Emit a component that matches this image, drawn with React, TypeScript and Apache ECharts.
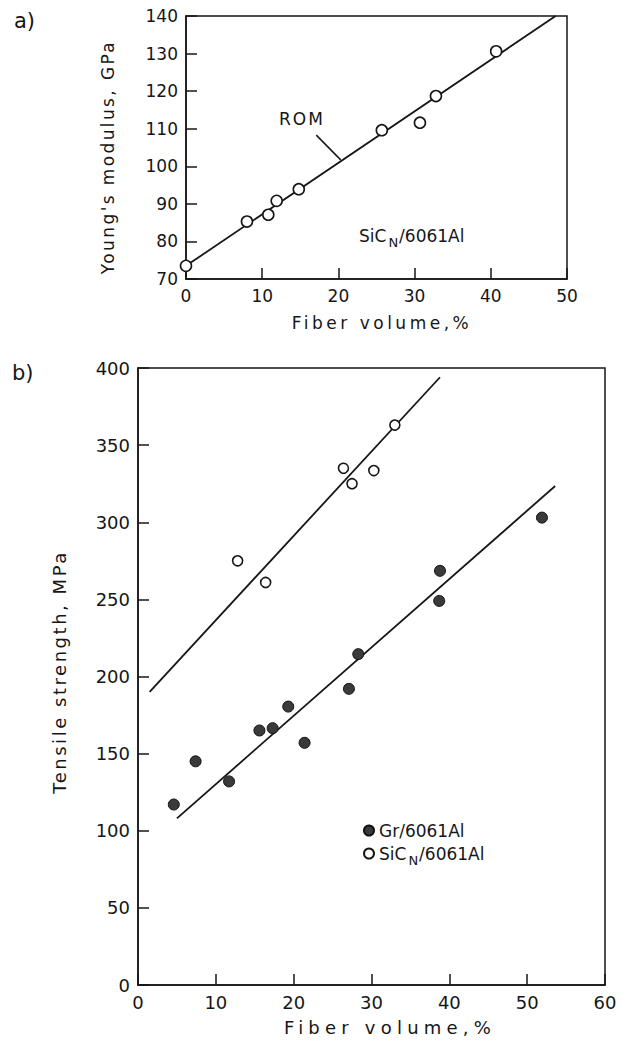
import React, { useEffect, useRef } from "react";
import * as echarts from "echarts";

// ---------- Panel a: Young's modulus ----------
const youngX = [0, 8, 10.8, 11.9, 14.8, 25.7, 30.7, 32.8, 40.7];
const youngY = [73.5, 85.3, 87.1, 90.8, 93.9, 109.6, 111.6, 118.7, 130.6];
const romLineX = [0, 48.5];
const romLineY = [73.5, 140];
const romLeaderX = [17.1, 20.3];
const romLeaderY = [108.3, 101.7];
const aXTicks = { min: 0, max: 50, interval: 10 };
const aYTicks = { min: 70, max: 140, interval: 10 };

// ---------- Panel b: Tensile strength ----------
const sicX = [12.8, 16.4, 26.4, 27.5, 30.3, 33.0];
const sicY = [275, 261, 335, 325, 333.5, 363];
const grX = [4.6, 7.4, 11.7, 15.6, 17.3, 19.3, 21.4, 27.1, 28.3, 38.7, 38.8, 51.9];
const grY = [117, 145, 132, 165, 166.5, 180.5, 157, 192, 214.5, 249, 268.5, 303];
const sicLineX = [1.5, 38.8];
const sicLineY = [190, 394];
const grLineX = [5, 53.6];
const grLineY = [108, 323.5];
const bXTicks = { min: 0, max: 60, interval: 10 };
const bYTicks = { min: 0, max: 400, interval: 50 };

const GR_NAME = "Gr/6061Al";
const SIC_NAME = "SiCN/6061Al";

const FONT = "DejaVu Sans";
const INK = "#161616";

const zip = (xs: number[], ys: number[]) => xs.map((x, i) => [x, ys[i]]);

// target widths (px) for letter-spaced texts, keyed by content|fontSize
const spacedTargets: Record<string, number> = {
  "Young's modulus, GPa|17": 232,
  "Fiber volume,%|17": 177,
  "Tensile strength, MPa|18": 241,
  "Fiber volume,%|18": 207,
  "ROM|17": 44,
};

function axisCommon(fontSize: number) {
  return {
    type: "value" as const,
    axisLine: { show: true, onZero: false, lineStyle: { color: INK, width: 1.5 } },
    axisTick: { show: true, inside: true, length: 11, lineStyle: { color: INK, width: 1.5 } },
    axisLabel: { color: INK, fontSize, fontFamily: FONT, margin: 8 },
    splitLine: { show: false },
  };
}

export default function App() {
  const ref = useRef<HTMLDivElement>(null);

  useEffect(() => {
    document.body.style.margin = "0";
    if (!ref.current) return;
    const chart = echarts.init(ref.current, undefined, { renderer: "svg" });

    const richSub = {
      m: { fontSize: 17, fontFamily: FONT, color: INK },
      s: { fontSize: 13, fontFamily: FONT, color: INK, padding: [13, 1, 0, 2] },
    };

    const option: any = {
      animation: false,
      backgroundColor: "#ffffff",
      grid: [
        { left: 186, top: 16, width: 381, height: 263, show: true, borderColor: INK, borderWidth: 1.5 },
        { left: 138, top: 368, width: 467, height: 617, show: true, borderColor: INK, borderWidth: 1.5 },
      ],
      xAxis: [
        { gridIndex: 0, ...axisCommon(17), ...aXTicks },
        { gridIndex: 1, ...axisCommon(18), ...bXTicks },
      ],
      yAxis: [
        { gridIndex: 0, ...axisCommon(17), ...aYTicks },
        { gridIndex: 1, ...axisCommon(18), ...bYTicks },
      ],
      legend: {
        data: [GR_NAME, SIC_NAME],
        orient: "vertical",
        left: 358,
        top: 817,
        icon: "circle",
        itemWidth: 10,
        itemHeight: 10,
        itemGap: 6,
        selectedMode: false,
        textStyle: { color: INK, fontSize: 17, fontFamily: FONT, rich: richSub },
        formatter: (name: string) =>
          name === SIC_NAME ? "{m|SiC}{s|N}{m|/6061Al}" : "{m|Gr/6061Al}",
      },
      graphic: [
        { type: "text", left: 14, top: 10, style: { text: "a)", fontSize: 21, fontFamily: FONT, fill: INK } },
        { type: "text", left: 12, top: 362, style: { text: "b)", fontSize: 21, fontFamily: FONT, fill: INK } },
        {
          type: "text", x: 108, y: 157, rotation: Math.PI / 2,
          style: { text: "Young's modulus, GPa", fontSize: 17, fontFamily: FONT, fill: INK, align: "center", verticalAlign: "middle" },
        },
        {
          type: "text", x: 382, y: 323,
          style: { text: "Fiber volume,%", fontSize: 17, fontFamily: FONT, fill: INK, align: "center", verticalAlign: "middle" },
        },
        {
          type: "text", x: 59, y: 672, rotation: Math.PI / 2,
          style: { text: "Tensile strength, MPa", fontSize: 18, fontFamily: FONT, fill: INK, align: "center", verticalAlign: "middle" },
        },
        {
          type: "text", x: 390, y: 1027,
          style: { text: "Fiber volume,%", fontSize: 18, fontFamily: FONT, fill: INK, align: "center", verticalAlign: "middle" },
        },
        {
          type: "text", x: 302, y: 119,
          style: { text: "ROM", fontSize: 17, fontFamily: FONT, fill: INK, align: "center", verticalAlign: "middle" },
        },
        {
          type: "text", x: 359, y: 236,
          style: {
            text: "{m|SiC}{s|N}{m|/6061Al}", rich: richSub,
            fontSize: 17, fontFamily: FONT, fill: INK, align: "left", verticalAlign: "middle",
          },
        },
      ],
      series: [
        {
          type: "line", xAxisIndex: 0, yAxisIndex: 0, data: zip(romLineX, romLineY),
          symbol: "none", lineStyle: { color: INK, width: 1.8 }, silent: true, z: 2,
        },
        {
          type: "line", xAxisIndex: 0, yAxisIndex: 0, data: zip(romLeaderX, romLeaderY),
          symbol: "none", lineStyle: { color: INK, width: 1.5 }, silent: true, z: 2,
        },
        {
          type: "scatter", xAxisIndex: 0, yAxisIndex: 0, data: zip(youngX, youngY),
          symbol: "circle", symbolSize: 11,
          itemStyle: { color: "#ffffff", borderColor: INK, borderWidth: 1.6, opacity: 1 }, z: 3,
        },
        {
          type: "line", xAxisIndex: 1, yAxisIndex: 1, data: zip(sicLineX, sicLineY),
          symbol: "none", lineStyle: { color: INK, width: 1.8 }, silent: true, z: 2,
        },
        {
          type: "line", xAxisIndex: 1, yAxisIndex: 1, data: zip(grLineX, grLineY),
          symbol: "none", lineStyle: { color: INK, width: 1.8 }, silent: true, z: 2,
        },
        {
          name: GR_NAME, type: "scatter", xAxisIndex: 1, yAxisIndex: 1, data: zip(grX, grY),
          symbol: "circle", symbolSize: 11,
          itemStyle: { color: "#3a3a3a", borderColor: "#111", borderWidth: 1, opacity: 1 }, z: 3,
        },
        {
          name: SIC_NAME, type: "scatter", xAxisIndex: 1, yAxisIndex: 1, data: zip(sicX, sicY),
          symbol: "circle", symbolSize: 10,
          itemStyle: { color: "#ffffff", borderColor: INK, borderWidth: 1.6, opacity: 1 }, z: 3,
        },
      ],
    };

    chart.setOption(option);

    const adjust = () => {
      const root = ref.current;
      if (!root) return;
      root.querySelectorAll("text").forEach((t) => {
        const el = t as SVGTextElement;
        const content = (el.textContent || "").trim();
        const fs = Math.round(parseFloat(getComputedStyle(el).fontSize || "0"));
        const target = spacedTargets[content + "|" + fs];
        if (!target) return;
        el.style.letterSpacing = "0px";
        const len = el.getComputedTextLength();
        const n = Math.max(1, content.length - 1);
        const sp = (target - len) / n;
        if (sp > 0) el.style.letterSpacing = sp.toFixed(2) + "px";
      });
    };
    adjust();
    chart.on("finished", adjust);
    const raf = requestAnimationFrame(adjust);

    return () => {
      cancelAnimationFrame(raf);
      chart.dispose();
    };
  }, []);

  return (
    <div
      ref={ref}
      style={{ position: "absolute", left: 0, top: 0, width: 629, height: 1045, background: "#fff" }}
    />
  );
}
